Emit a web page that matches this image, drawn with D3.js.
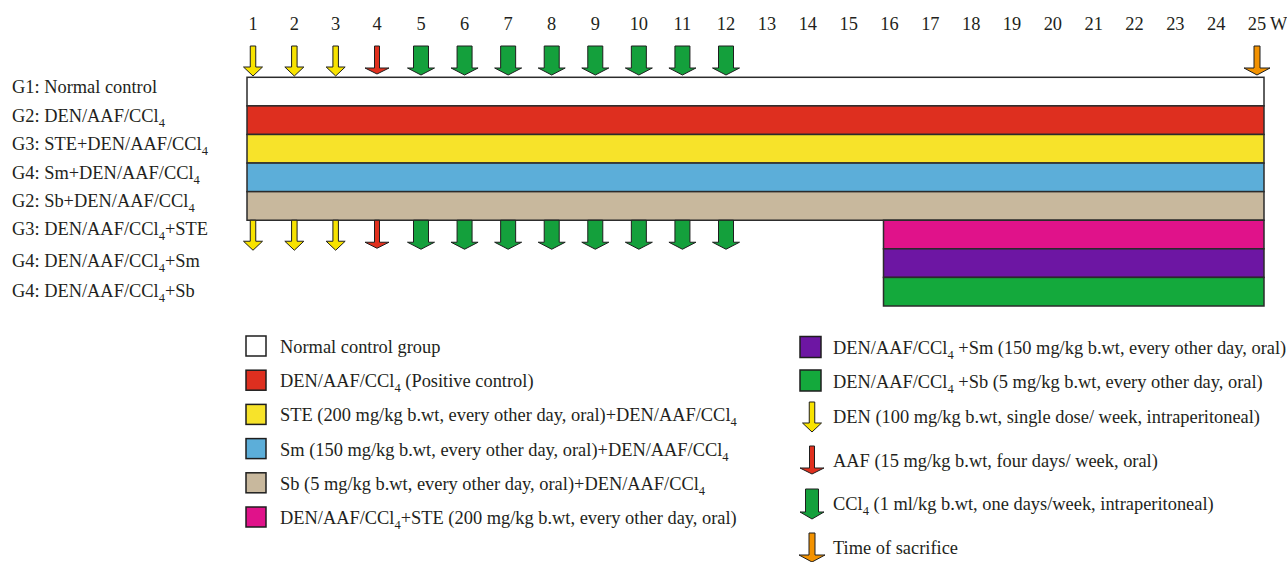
<!DOCTYPE html>
<html><head><meta charset="utf-8">
<script src="https://cdn.jsdelivr.net/npm/d3@7"></script>
<style>
body{margin:0;background:#fff;overflow:hidden}
svg text{font-family:"Liberation Serif","Times New Roman",serif;font-size:18.4px;fill:#231f20}
</style></head><body>
<svg id="chart" width="1287" height="562"></svg>
<script>
// ---------- data ----------
const weekLabels = [1,2,3,4,5,6,7,8,9,10,11,12,13,14,15,16,17,18,19,20,21,22,23,24,25];
const weekUnit = "W";
const groupLabels = [
  "G1: Normal control",
  "G2: DEN/AAF/CCl_4",
  "G3: STE+DEN/AAF/CCl_4",
  "G4: Sm+DEN/AAF/CCl_4",
  "G2: Sb+DEN/AAF/CCl_4",
  "G3: DEN/AAF/CCl_4+STE",
  "G4: DEN/AAF/CCl_4+Sm",
  "G4: DEN/AAF/CCl_4+Sb"
];
const groupColors = ["#ffffff","#de2f1f","#f7e32a","#5caed9","#c8b89d","#e0128a","#6d16a3","#14a93c"];
const groupStartWeek = [1,1,1,1,1,16,16,16];
const groupEndWeek   = [25,25,25,25,25,25,25,25];
const denWeeks = [1,2,3];
const aafWeeks = [4];
const ccl4Weeks = [5,6,7,8,9,10,11,12];
const sacrificeWeeks = [25];
const legendLeft = [
  "Normal control group",
  "DEN/AAF/CCl_4 (Positive control)",
  "STE (200 mg/kg b.wt, every other day, oral)+DEN/AAF/CCl_4",
  "Sm (150 mg/kg b.wt, every other day, oral)+DEN/AAF/CCl_4",
  "Sb (5 mg/kg b.wt, every other day, oral)+DEN/AAF/CCl_4",
  "DEN/AAF/CCl_4+STE (200 mg/kg b.wt, every other day, oral)"
];
const legendRightSwatches = [
  "DEN/AAF/CCl_4 +Sm (150 mg/kg b.wt, every other day, oral)",
  "DEN/AAF/CCl_4 +Sb (5 mg/kg b.wt, every other day, oral)"
];
const legendArrows = [
  "DEN (100 mg/kg b.wt, single dose/ week, intraperitoneal)",
  "AAF (15 mg/kg b.wt, four days/ week, oral)",
  "CCl_4 (1 ml/kg b.wt, one days/week, intraperitoneal)",
  "Time of sacrifice"
];

// ---------- styles ----------
const arrowStyles = {
  den: {sw:5.5, hw:19, hh:9, len:30, fill:"#f8e300"},
  aaf: {sw:5,   hw:24, hh:6, len:28, fill:"#e0301e"},
  ccl4:{sw:15,  hw:27, hh:7, len:29, fill:"#14a03c"},
  sac: {sw:6,   hw:26, hh:7, len:29, fill:"#f39200"}
};

const svg = d3.select("#chart");

const x = d3.scaleLinear().domain([1,4,5,12,13,25]).range([253,377,421,726,767,1257]);
const y = d3.scaleBand().domain(d3.range(groupLabels.length)).range([77.3,306]).padding(0);

function richText(sel, str){
  const parts = str.split(/_(\d)/);
  parts.forEach((p,i)=>{
    if(i%2===1){
      sel.append("tspan").attr("dy",5).style("font-size","12.5px").text(p);
    } else if(p.length){
      const t = sel.append("tspan").text(p);
      if(i>0) t.attr("dy",-5);
    }
  });
}

function arrowPath(s){
  const L=s.len, a=s.sw/2, b=s.hw/2, h=L-s.hh;
  return `M${-a},0L${a},0L${a},${h}L${b},${h}L0,${L}L${-b},${h}L${-a},${h}Z`;
}

// week labels
svg.append("g").selectAll("text").data(weekLabels).join("text")
  .attr("x",d=>x(d)).attr("y",30).attr("text-anchor","middle").text(d=>d);
svg.append("text").attr("x",x(25)+13).attr("y",30).text(weekUnit);

// bars
svg.append("g").selectAll("rect").data(groupLabels).join("rect")
  .attr("x",(d,i)=>x(groupStartWeek[i])-6)
  .attr("y",(d,i)=>y(i))
  .attr("width",(d,i)=>x(groupEndWeek[i])+7-(x(groupStartWeek[i])-6))
  .attr("height",y.bandwidth())
  .attr("fill",(d,i)=>groupColors[i])
  .attr("stroke","#2b2b2b").attr("stroke-width",1.5);

// group labels
const labelOffset=[1.5,1.5,1.5,1.5,1.5,0.5,3.7,5.5];
svg.append("g").selectAll("text").data(groupLabels).join("text")
  .attr("x",12).attr("y",(d,i)=>y(i)+y.bandwidth()/2+labelOffset[i])
  .each(function(d){richText(d3.select(this),d);});

// arrows
function drawArrows(g, weeks, style, top){
  g.selectAll(null).data(weeks).join("path")
    .attr("transform",d=>`translate(${x(d)},${top})`)
    .attr("d",arrowPath(style))
    .attr("fill",style.fill).attr("stroke","#1e1e1e").attr("stroke-width",1);
}
const topArrowY = 46;
const bottomArrowY = y(4)+y.bandwidth();
const ga = svg.append("g");
[[denWeeks,arrowStyles.den],[aafWeeks,arrowStyles.aaf],[ccl4Weeks,arrowStyles.ccl4],[sacrificeWeeks,arrowStyles.sac]]
  .forEach(([w,s])=>drawArrows(ga.append("g"),w,s,topArrowY));
[[denWeeks,arrowStyles.den],[aafWeeks,arrowStyles.aaf],[ccl4Weeks,arrowStyles.ccl4]]
  .forEach(([w,s])=>drawArrows(ga.append("g"),w,s,bottomArrowY));

// legend left
const ll = svg.append("g");
legendLeft.forEach((t,i)=>{
  const cy = 346 + i*34.2;
  ll.append("rect").attr("x",246).attr("y",cy-10).attr("width",20).attr("height",20)
    .attr("fill",groupColors[i]).attr("stroke","#1e1e1e").attr("stroke-width",1.5);
  richText(ll.append("text").attr("x",280).attr("y",cy+7),t);
});

// legend right
const lr = svg.append("g");
legendRightSwatches.forEach((t,i)=>{
  const cy = 347 + i*33.5;
  lr.append("rect").attr("x",800).attr("y",cy-10.5).attr("width",21).attr("height",21)
    .attr("fill",groupColors[6+i]).attr("stroke","#1e1e1e").attr("stroke-width",1.5);
  richText(lr.append("text").attr("x",833).attr("y",cy+7),t);
});
const arrowKeys=[arrowStyles.den,arrowStyles.aaf,{sw:13,hw:24,hh:7,len:30,fill:"#14a03c"},arrowStyles.sac];
const arrowLegendCy=[417,461,504,548];
legendArrows.forEach((t,i)=>{
  const s=arrowKeys[i];
  const cy=arrowLegendCy[i];
  lr.append("path").attr("transform",`translate(812,${cy-15})`).attr("d",arrowPath(s))
    .attr("fill",s.fill).attr("stroke","#1e1e1e").attr("stroke-width",1);
  richText(lr.append("text").attr("x",833).attr("y",cy+5.5),t);
});
</script>
</body></html>
